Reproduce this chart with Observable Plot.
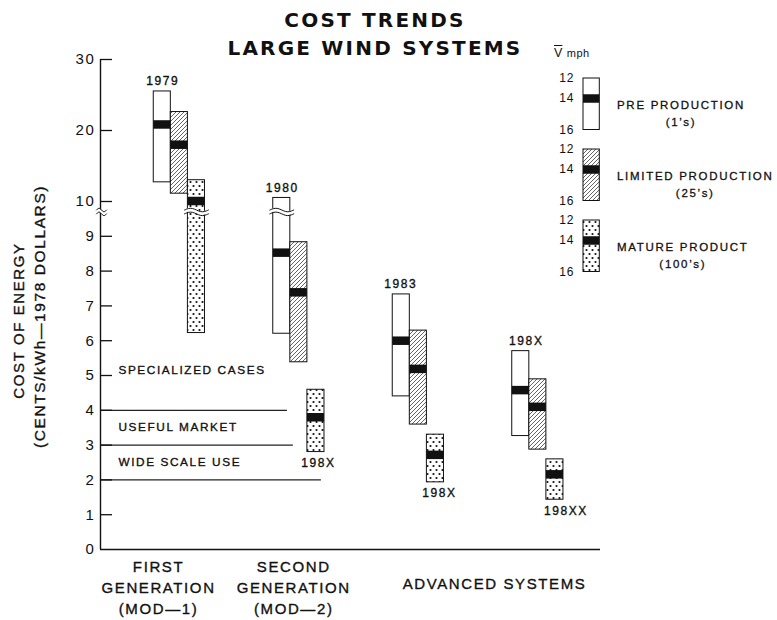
<!DOCTYPE html>
<html><head><meta charset="utf-8">
<script src="https://cdn.jsdelivr.net/npm/d3@7"></script>
<script src="https://cdn.jsdelivr.net/npm/@observablehq/plot@0.6"></script>
<style>
html,body{margin:0;padding:0;background:#fff;}
#wrap{position:relative;width:777px;height:620px;font-family:"Liberation Sans",Arial,sans-serif;color:#111;overflow:hidden;}
#wrap svg{position:absolute;}
#title{position:absolute;left:0;width:750px;top:6px;text-align:center;font-family:"DejaVu Sans",sans-serif;font-weight:bold;font-size:20px;letter-spacing:2.2px;line-height:28px;color:#111;}
.lg{position:absolute;left:617px;font-size:11.5px;letter-spacing:1.7px;line-height:17px;text-align:center;white-space:pre;-webkit-text-stroke:0.3px #111;}
#vmph{position:absolute;left:554px;top:43px;white-space:nowrap;}
</style></head>
<body>
<svg width="0" height="0" style="position:absolute">
<defs>
<pattern id="hatch" patternUnits="userSpaceOnUse" width="4" height="4">
<rect width="4" height="4" fill="white"/>
<path d="M-1,1 l2,-2 M0,4 l4,-4 M3,5 l2,-2" stroke="#222" stroke-width="0.7"/>
</pattern>
<pattern id="dots" patternUnits="userSpaceOnUse" width="6" height="8">
<rect width="6" height="8" fill="white"/>
<circle cx="1.5" cy="2" r="1.1" fill="#111"/>
<circle cx="4.5" cy="6" r="1.1" fill="#111"/>
</pattern>
</defs></svg>
<div id="wrap"></div>
<script>
// ---------- data ----------
const groups = ["FIRST GENERATION (MOD-1)", "SECOND GENERATION (MOD-2)", "ADVANCED SYSTEMS 1983", "ADVANCED SYSTEMS 198X"];
const tiers = ["PRE PRODUCTION", "LIMITED PRODUCTION", "MATURE PRODUCT"];
const tierNotes = ["(1\u2019s)", "(25\u2019s)", "(100\u2019s)"];
// cost of energy, cents/kWh (1978 dollars): [pre, limited, mature] per group
const costHigh = [[25.5, 22.6, 13.0], [10.5, 8.83, 4.59], [7.33, 6.29, 3.30], [5.70, 4.89, 2.59]];
const costLow  = [[12.7, 11.1, 6.22], [6.2, 5.38, 2.80], [4.40, 3.59, 1.93], [3.26, 2.87, 1.43]];
const costMid  = [[20.85, 18.0, 10.07], [8.53, 7.39, 3.80], [6.0, 5.19, 2.72], [4.58, 4.10, 2.16]];
const yTicks = [0, 1, 2, 3, 4, 5, 6, 7, 8, 9, 10, 20, 30];
const breakValue = 9.7;
const yearText  = ["1979", "1980", "1983", "198X", "198X", "198X", "198XX"];
const yearGroup = [0, 1, 2, 3, 1, 2, 3];
const yearTier  = [0, 0, 0, 0, 2, 2, 2];
const yearAbove = [true, true, true, true, false, false, false];
const zoneNames = ["SPECIALIZED CASES", "USEFUL MARKET", "WIDE SCALE USE"];
const zoneTextLevel = [5.16, 3.51, 2.51];
const zoneLevels = [4, 3, 2];
const groupLabels = ["FIRST\nGENERATION\n(MOD\u20141)", "SECOND\nGENERATION\n(MOD\u20142)", "ADVANCED SYSTEMS"];
const legendMph = [12, 14, 16];
const legendBandMph = 14;

// ---------- layout ----------
const X0 = -3.12, X1 = 26.17;           // x domain in bar-slot units
const SLOT_PX = 500 / (X1 - X0);
const SLOTS_PER_GROUP = 7;
const TICK_LEN = 12 / SLOT_PX;
const zoneLineEnds = [7.83, 8.18, 9.82];
const zoneTextX = -2.07;
const groupLabelX = [0.28, 8.2, 19.96];
const groupLabelRow = [0, 0, 1];
const yearDxPx = [0.5, 0.5, -0.5, 5.5, 2.5, 4, 11];
const tierFill = ["white", "url(#hatch)", "url(#dots)"];
const FONT = '"Liberation Sans", Arial, sans-serif';
const INK = {fill: "#111", stroke: "#111", strokeWidth: 0.35, strokeOpacity: 1, fillOpacity: 1};

const bars = groups.flatMap((g, gi) => tiers.map((t, ti) => ({
  group: g, tier: t, gi, ti,
  low: costLow[gi][ti], high: costHigh[gi][ti], mid: costMid[gi][ti],
  x1: gi * SLOTS_PER_GROUP + ti, x2: gi * SLOTS_PER_GROUP + ti + 1
})));

const years = yearText.map((t, i) => {
  const gi = yearGroup[i], ti = yearTier[i];
  return {t, above: yearAbove[i],
    x: gi * SLOTS_PER_GROUP + ti + 0.5 + yearDxPx[i] / SLOT_PX,
    y: yearAbove[i] ? costHigh[gi][ti] : costLow[gi][ti]};
});

// axis-break squiggles (decoration)
const breakSpans = [
  ...bars.filter(d => d.low < breakValue && d.high > breakValue).map(d => ({x1: d.x1 - 0.2, x2: d.x2 + 0.2})),
  {x1: X0 - 4 / SLOT_PX, x2: X0 + 6 / SLOT_PX}
];
const GAP = 0.11, AMP = 0.05;
const wave = breakSpans.flatMap((s, k) => d3.range(13).map(t => {
  const ph = Math.sin(2 * Math.PI * t / 12);
  return {id: k, x: s.x1 + (s.x2 - s.x1) * t / 12,
    lo: breakValue - GAP / 2 + AMP * ph, hi: breakValue + GAP / 2 + AMP * ph};
}));

const chart = Plot.plot({
  width: 777, height: 620,
  marginLeft: 100, marginRight: 177, marginTop: 59, marginBottom: 71,
  x: {type: "linear", domain: [X0, X1], axis: null},
  y: {type: "linear", domain: [0, 10, 30], range: [549, 201, 59]},
  color: {type: "identity"},
  style: {fontFamily: FONT, fontSize: "12px", letterSpacing: "1.6px", color: "#111", background: "transparent"},
  marks: [
    Plot.rect(bars, {x1: "x1", x2: "x2", y1: "low", y2: "high", fill: d => tierFill[d.ti], stroke: "#111", strokeWidth: 1}),
    Plot.ruleY(bars, {y: "mid", x1: "x1", x2: "x2", stroke: "#111", strokeWidth: 8.5}),
    Plot.ruleY(zoneLevels, {y: d => d, x1: X0, x2: (d, i) => zoneLineEnds[i], stroke: "#222", strokeWidth: 1.2}),
    Plot.ruleY([0], {x1: X0, x2: X1, stroke: "#111", strokeWidth: 1.4}),
    Plot.ruleX([X0], {y1: 0, y2: 30, stroke: "#111", strokeWidth: 1.4}),
    Plot.ruleY(yTicks.filter(v => v > 0), {y: d => d, x1: X0, x2: X0 + TICK_LEN, stroke: "#111", strokeWidth: 1.3}),
    Plot.areaY(wave, {x: "x", y1: "lo", y2: "hi", z: "id", fill: "white", curve: "natural"}),
    Plot.line(wave, {x: "x", y: "lo", z: "id", curve: "natural", stroke: "#111", strokeWidth: 1}),
    Plot.line(wave, {x: "x", y: "hi", z: "id", curve: "natural", stroke: "#111", strokeWidth: 1}),
    Plot.axisY({ticks: yTicks, tickSize: 0, tickPadding: 5, fontSize: 15, tickFormat: d => String(d), stroke: "#111", strokeWidth: 0.35}),
    Plot.text(zoneNames, {x: zoneTextX, y: (d, i) => zoneTextLevel[i], text: d => d, textAnchor: "start", fontSize: 11.8, ...INK}),
    Plot.text(years.filter(d => d.above), {x: "x", y: "y", text: "t", dy: -10, fontSize: 12, ...INK}),
    Plot.text(years.filter(d => !d.above), {x: "x", y: "y", text: "t", dy: 11, fontSize: 12, ...INK}),
    Plot.text(groupLabels.filter((d, i) => groupLabelRow[i] === 0), {
      x: (d, i) => groupLabelX[i], y: 0, text: d => d, lineAnchor: "top", dy: 8, lineHeight: 1.4, fontSize: 15, ...INK}),
    Plot.text(groupLabels.filter((d, i) => groupLabelRow[i] === 1), {
      x: (d, i) => groupLabelX.filter((v, j) => groupLabelRow[j] === 1)[i], y: 0, text: d => d, lineAnchor: "top", dy: 29, fontSize: 15, ...INK}),
    Plot.text(["COST OF ENERGY"], {frameAnchor: "left", textAnchor: "middle", text: d => d, rotate: -90, dx: -81, dy: 16, fontSize: 15, ...INK}),
    Plot.text(["(CENTS/kWh\u20141978 DOLLARS)"], {frameAnchor: "left", textAnchor: "middle", text: d => d, rotate: -90, dx: -60, dy: 12, fontSize: 15.5, ...INK})
  ]
});
chart.style.left = "0px"; chart.style.top = "0px";
const wrap = document.getElementById("wrap");
wrap.appendChild(chart);

const title = document.createElement("div");
title.id = "title";
title.innerHTML = "COST TRENDS<br>LARGE WIND SYSTEMS";
wrap.appendChild(title);

const vm = document.createElement("div");
vm.id = "vmph";
vm.innerHTML = '<span style="font-size:12.5px;text-decoration:overline;">V</span> <span style="font-size:11px;letter-spacing:0.5px;">mph</span>';
wrap.appendChild(vm);

// ---------- legend ----------
tiers.forEach((t, i) => {
  const rowTop = 69.7 + i * 71;
  const lp = Plot.plot({
    width: 62, height: 70, marginTop: 8, marginLeft: 43, marginRight: 2.7, marginBottom: 0,
    x: {type: "linear", domain: [0, 1], axis: null},
    y: {type: "linear", domain: legendMph, range: [8, 28, 59.5]},
    color: {type: "identity"},
    style: {fontFamily: FONT, fontSize: "12px", letterSpacing: "1px", color: "#111", background: "transparent"},
    marks: [
      Plot.rect([t], {x1: 0, x2: 1, y1: legendMph[0], y2: legendMph[2], fill: () => tierFill[i], stroke: "#111", strokeWidth: 1}),
      Plot.ruleY([legendBandMph], {y: d => d, x1: 0, x2: 1, stroke: "#111", strokeWidth: 8.5}),
      Plot.axisY({ticks: legendMph, tickSize: 0, tickPadding: 9, fontSize: 12, tickFormat: d => String(d), stroke: "#111", strokeWidth: 0.35})
    ]
  });
  lp.style.left = "540px"; lp.style.top = rowTop + "px";
  wrap.appendChild(lp);
  const lab = document.createElement("div");
  lab.className = "lg";
  lab.style.top = (rowTop + 26.8) + "px";
  lab.textContent = t + "\n" + tierNotes[i];
  wrap.appendChild(lab);
});
</script>
</body></html>
